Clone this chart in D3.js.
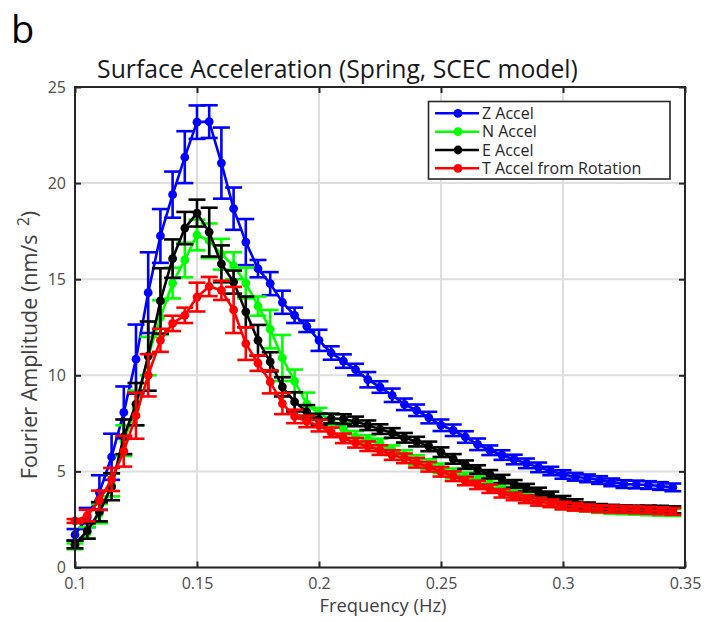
<!DOCTYPE html>
<html><head><meta charset="utf-8">
<script src="https://cdn.jsdelivr.net/npm/d3@7"></script>
<style>body{margin:0;background:#fff}</style>
</head><body>
<svg id="c" width="717" height="622"></svg>
<script>
const freqs = [0.1,0.105,0.11,0.115,0.12,0.125,0.13,0.135,0.14,0.145,
  0.15,0.155,0.16,0.165,0.17,0.175,0.18,0.185,0.19,0.195,
  0.2,0.205,0.21,0.215,0.22,0.225,0.23,0.235,0.24,0.245,
  0.25,0.255,0.26,0.265,0.27,0.275,0.28,0.285,0.29,0.295,
  0.3,0.305,0.31,0.315,0.32,0.325,0.33,0.335,0.34,0.345];
const zAccel = [1.7,2.6,3.9,5.76,8.07,10.84,14.3,17.25,19.4,21.35,
  23.17,23.2,21.04,18.67,16.93,15.55,14.77,13.8,13.12,12.55,
  11.82,11.16,10.74,10.3,9.77,9.39,8.96,8.49,8.18,7.8,
  7.4,7.14,6.79,6.41,6.1,5.85,5.62,5.42,5.21,5.02,
  4.84,4.72,4.64,4.55,4.43,4.34,4.32,4.29,4.24,4.17];
const zErr = [0.3,0.5,0.9,1.2,1.35,1.8,2.1,1.4,1.2,1.35,
  0.87,0.85,1.85,1.1,1.2,0.45,0.6,0.6,0.4,0.3,
  0.55,0.35,0.35,0.3,0.4,0.3,0.35,0.3,0.3,0.3,
  0.3,0.3,0.3,0.3,0.25,0.25,0.25,0.25,0.25,0.22,
  0.22,0.2,0.2,0.2,0.2,0.2,0.2,0.2,0.2,0.2];
const nAccel = [1.1,1.8,2.8,4.3,6.6,8.3,11.0,13.0,14.8,16.0,
  17.3,17.0,16.3,15.7,14.8,13.6,12.4,10.9,9.7,8.5,
  8.0,7.7,7.23,6.8,6.63,6.45,6.1,5.85,5.59,5.38,
  5.16,4.9,4.72,4.55,4.38,4.2,4.0,3.82,3.6,3.42,
  3.28,3.18,3.1,3.02,2.98,2.95,2.93,2.9,2.88,2.86];
const nErr = [0.15,0.3,0.5,0.6,0.8,0.9,1.0,0.9,0.8,0.9,
  0.8,0.9,0.8,0.7,0.8,0.5,1.0,1.2,0.6,0.6,
  0.3,0.3,0.3,0.3,0.25,0.25,0.25,0.25,0.25,0.25,
  0.25,0.25,0.22,0.22,0.22,0.22,0.2,0.2,0.2,0.2,
  0.2,0.2,0.18,0.18,0.18,0.18,0.18,0.18,0.18,0.18];
const eAccel = [1.2,1.9,2.9,4.2,6.8,8.5,11.0,13.87,16.07,17.66,
  18.44,17.45,15.8,14.85,13.3,11.82,10.7,9.4,8.62,8.1,
  7.7,7.75,7.72,7.6,7.4,7.2,7.0,6.75,6.55,6.3,
  6.0,5.65,5.35,5.1,4.85,4.6,4.35,4.15,3.95,3.75,
  3.52,3.35,3.2,3.12,3.08,3.05,3.04,3.04,3.03,3.0];
const eErr = [0.2,0.4,0.5,0.7,0.9,1.1,1.8,1.7,1.0,0.84,
  0.7,1.27,0.96,0.6,0.8,0.8,0.5,0.5,0.5,0.35,
  0.3,0.25,0.25,0.25,0.25,0.25,0.25,0.25,0.25,0.25,
  0.25,0.25,0.22,0.22,0.22,0.22,0.2,0.2,0.2,0.2,
  0.2,0.2,0.18,0.18,0.18,0.18,0.18,0.18,0.18,0.18];
const tAccel = [2.42,2.7,3.5,4.58,6.05,7.9,10.0,11.82,12.7,13.12,
  14.07,14.62,14.42,13.4,11.65,10.63,9.66,8.53,7.86,7.6,
  7.38,7.03,6.72,6.49,6.31,6.11,5.85,5.68,5.45,5.24,
  4.98,4.75,4.5,4.3,4.1,3.86,3.7,3.55,3.42,3.34,
  3.22,3.16,3.1,3.06,3.04,3.02,3.0,2.98,2.95,2.92];
const tErr = [0.1,0.3,0.5,0.6,0.8,1.2,1.1,0.6,0.4,0.4,
  0.75,0.5,0.5,1.2,0.85,0.4,0.6,0.55,0.35,0.3,
  0.3,0.25,0.25,0.25,0.25,0.25,0.25,0.25,0.25,0.25,
  0.25,0.25,0.22,0.22,0.22,0.22,0.2,0.2,0.2,0.2,
  0.2,0.2,0.18,0.18,0.18,0.18,0.18,0.18,0.18,0.18];
const xTicks = [0.1,0.15,0.2,0.25,0.3,0.35];
const xTickLabels = ["0.1","0.15","0.2","0.25","0.3","0.35"];
const yTicks = [0,5,10,15,20,25];
const seriesNames = ["Z Accel","N Accel","E Accel","T Accel from Rotation"];
const seriesColors = ["#0000ff","#00ff00","#000000","#ff0000"];

const series = [
  {name: seriesNames[0], color: seriesColors[0], v: zAccel, e: zErr},
  {name: seriesNames[1], color: seriesColors[1], v: nAccel, e: nErr},
  {name: seriesNames[2], color: seriesColors[2], v: eAccel, e: eErr},
  {name: seriesNames[3], color: seriesColors[3], v: tAccel, e: tErr}
];

const FONT = "'Open Sans', 'Noto Sans', sans-serif";
const svg = d3.select("#c");
const L = 75, R = 685, T = 87, B = 567.5;
const x = d3.scaleLinear().domain([0.1, 0.35]).range([L, R]);
const y = d3.scaleLinear().domain([0, 25]).range([B, T]);

svg.append("rect").attr("width", 717).attr("height", 622).attr("fill", "#fff");

// grid
const grid = svg.append("g");
grid.selectAll(".gx").data(xTicks).join("line")
  .attr("x1", d => x(d)).attr("x2", d => x(d)).attr("y1", T).attr("y2", B)
  .attr("stroke", "#dedede").attr("stroke-width", 2);
grid.selectAll(".gy").data(yTicks).join("line")
  .attr("y1", d => y(d)).attr("y2", d => y(d)).attr("x1", L).attr("x2", R)
  .attr("stroke", "#dedede").attr("stroke-width", 2);

// data
const capHalf = 8.5;
series.forEach(s => {
  const g = svg.append("g");
  const pts = freqs.map((f, i) => ({f, v: s.v[i], e: s.e[i]}));
  const eb = g.append("g").attr("stroke", s.color).attr("stroke-width", 2.6).attr("fill", "none");
  pts.forEach(p => {
    const xx = x(p.f), y1 = y(p.v - p.e), y2 = y(p.v + p.e);
    eb.append("line").attr("x1", xx).attr("x2", xx).attr("y1", y1).attr("y2", y2);
    eb.append("line").attr("x1", xx - capHalf).attr("x2", xx + capHalf).attr("y1", y1).attr("y2", y1);
    eb.append("line").attr("x1", xx - capHalf).attr("x2", xx + capHalf).attr("y1", y2).attr("y2", y2);
  });
  g.append("path").datum(pts)
    .attr("d", d3.line().x(p => x(p.f)).y(p => y(p.v)))
    .attr("fill", "none").attr("stroke", s.color).attr("stroke-width", 2.6).attr("stroke-linejoin", "round");
  g.selectAll("circle").data(pts).join("circle")
    .attr("cx", p => x(p.f)).attr("cy", p => y(p.v)).attr("r", 4.4).attr("fill", s.color);
});

// axes box + ticks
const axCol = "#262626";
const xAxisB = d3.axisBottom(x).tickValues(xTicks).tickFormat((d, i) => xTickLabels[i]).tickSizeInner(-6).tickSizeOuter(0).tickPadding(10);
const gxb = svg.append("g").attr("transform", `translate(0,${B})`).call(xAxisB);
const xAxisT = d3.axisTop(x).tickValues(xTicks).tickFormat("").tickSizeInner(-6).tickSizeOuter(0);
const gxt = svg.append("g").attr("transform", `translate(0,${T})`).call(xAxisT);
const yAxisL = d3.axisLeft(y).tickValues(yTicks).tickFormat(d3.format("d")).tickSizeInner(-6).tickSizeOuter(0).tickPadding(9);
const gyl = svg.append("g").attr("transform", `translate(${L},0)`).call(yAxisL);
const yAxisR = d3.axisRight(y).tickValues(yTicks).tickFormat("").tickSizeInner(-6).tickSizeOuter(0);
const gyr = svg.append("g").attr("transform", `translate(${R},0)`).call(yAxisR);
[gxb, gxt, gyl, gyr].forEach(g => {
  g.select(".domain").remove();
  g.selectAll(".tick line").attr("stroke", axCol).attr("stroke-width", 2);
  g.selectAll(".tick text").attr("fill", "#4a4a4a").style("font-family", FONT).style("font-size", "16px");
});
svg.append("rect").attr("x", L).attr("y", T).attr("width", R - L).attr("height", B - T)
  .attr("fill", "none").attr("stroke", axCol).attr("stroke-width", 2);

// legend
const lg = svg.append("g");
lg.append("rect").attr("x", 428.5).attr("y", 101.5).attr("width", 241.5).attr("height", 77.5)
  .attr("fill", "#fff").attr("stroke", axCol).attr("stroke-width", 1.6);
const legY = [113.3, 131.7, 150, 168.3];
series.forEach((s, i) => {
  lg.append("line").attr("x1", 435).attr("x2", 479).attr("y1", legY[i]).attr("y2", legY[i])
    .attr("stroke", s.color).attr("stroke-width", 2.6);
  lg.append("circle").attr("cx", 458).attr("cy", legY[i]).attr("r", 4.4).attr("fill", s.color);
  lg.append("text").attr("x", 482).attr("y", legY[i]).attr("dy", "0.36em")
    .style("font-family", FONT).style("font-size", "16px").attr("fill", "#262626").text(s.name);
});

// titles
svg.append("text").attr("x", 11).attr("y", 43).style("font-family", FONT).style("font-size", "38px")
  .attr("fill", "#000").text("b");
const title = svg.append("text").attr("x", 337.5).attr("y", 78).attr("text-anchor", "middle")
  .style("font-family", FONT).style("font-size", "20px").attr("fill", "#1a1a1a")
  .text("Surface Acceleration (Spring, SCEC model)");
function fit(sel, w) {
  const cur = sel.node().getComputedTextLength();
  const fs = parseFloat(sel.style("font-size"));
  sel.style("font-size", (fs * w / cur).toFixed(2) + "px");
}
fit(title, 481);
const xl = svg.append("text").attr("x", 383).attr("y", 612).attr("text-anchor", "middle")
  .style("font-family", FONT).style("font-size", "19px").attr("fill", "#404040").text("Frequency (Hz)");
fit(xl, 127);

// y label
const yl = svg.append("text").attr("transform", "translate(37,345) rotate(-90)").attr("text-anchor", "middle")
  .style("font-family", FONT).style("font-size", "21.5px").attr("fill", "#404040");
yl.append("tspan").text("Fourier Amplitude (nm/s");
yl.append("tspan").attr("dx", "0.55em").attr("dy", "-0.55em").style("font-size", "0.72em").text("2");
yl.append("tspan").attr("dy", "0.4em").text(")");
</script>
</body></html>
